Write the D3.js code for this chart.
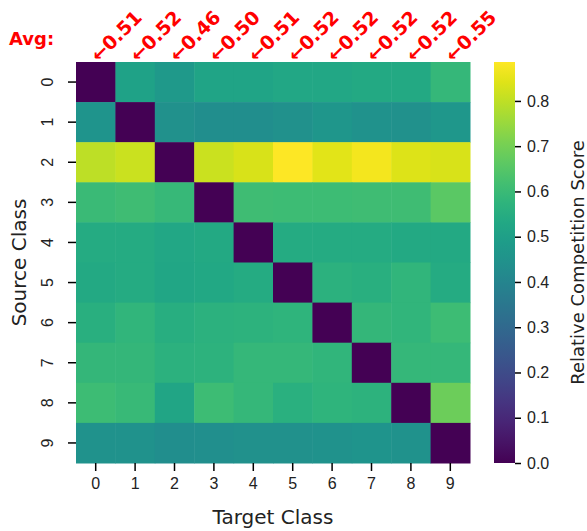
<!DOCTYPE html>
<html><head><meta charset="utf-8">
<script src="https://cdn.jsdelivr.net/npm/d3@7"></script>
<style>body{margin:0;background:#fff}svg{display:block;font-family:"DejaVu Sans",sans-serif}</style>
</head><body><svg id="c" width="587" height="531"></svg>
<script>
const sourceClasses = ["0","1","2","3","4","5","6","7","8","9"];
const targetClasses = ["0","1","2","3","4","5","6","7","8","9"];
const row0 = [0.000,0.509,0.475,0.518,0.518,0.527,0.527,0.535,0.535,0.589];
const row1 = [0.460,0.000,0.443,0.434,0.434,0.443,0.465,0.447,0.445,0.470];
const row2 = [0.797,0.815,0.000,0.815,0.833,0.886,0.846,0.870,0.840,0.833];
const row3 = [0.600,0.610,0.594,0.000,0.610,0.607,0.607,0.610,0.612,0.660];
const row4 = [0.540,0.540,0.527,0.536,0.000,0.540,0.540,0.540,0.535,0.536];
const row5 = [0.534,0.540,0.523,0.532,0.540,0.000,0.567,0.560,0.580,0.540];
const row6 = [0.558,0.580,0.554,0.567,0.571,0.576,0.000,0.585,0.580,0.607];
const row7 = [0.585,0.585,0.567,0.571,0.589,0.589,0.580,0.000,0.590,0.589];
const row8 = [0.607,0.598,0.520,0.607,0.589,0.563,0.576,0.570,0.000,0.687];
const row9 = [0.452,0.447,0.434,0.439,0.443,0.443,0.447,0.460,0.450,0.000];
const matrix = [row0,row1,row2,row3,row4,row5,row6,row7,row8,row9];
const avgLabels = ["0.51","0.52","0.46","0.50","0.51","0.52","0.52","0.52","0.52","0.55"];
const colorbarTicks = [0.0,0.1,0.2,0.3,0.4,0.5,0.6,0.7,0.8];

const svg = d3.select("#c");
const L=76, R=470, T=62, B=463;
const x = d3.scaleBand().domain(targetClasses).range([L,R]);
const y = d3.scaleBand().domain(sourceClasses).range([T,B]);
const vmax = d3.max(matrix.flat());
const color = d3.scaleSequential(d3.interpolateViridis).domain([0,vmax]);

const cells = [];
matrix.forEach((r,i)=>r.forEach((v,j)=>cells.push({s:sourceClasses[i],t:targetClasses[j],v})));
svg.append("g").selectAll("rect").data(cells).join("rect")
  .attr("x",d=>x(d.t)).attr("y",d=>y(d.s))
  .attr("width",x.bandwidth()+0.5).attr("height",y.bandwidth()+0.5)
  .attr("fill",d=>color(d.v));

// x axis
const xa = svg.append("g").attr("transform",`translate(0,${B})`)
  .call(d3.axisBottom(x).tickSize(8).tickPadding(7));
xa.select(".domain").remove();
xa.selectAll("line").attr("stroke","#000").attr("stroke-width",1.5);
xa.selectAll("text").attr("font-size",16).attr("fill","#222");

// y axis
const ya = svg.append("g").attr("transform",`translate(${L},0)`)
  .call(d3.axisLeft(y).tickSize(8).tickPadding(7));
ya.select(".domain").remove();
ya.selectAll("line").attr("stroke","#000").attr("stroke-width",1.5);
ya.selectAll("text").attr("font-size",16).attr("fill","#222")
  .attr("text-anchor","middle").attr("dy",null).attr("x",null)
  .attr("transform","translate(-29,0) rotate(-90)").attr("dy","0.35em");

svg.append("text").attr("x",(L+R)/2).attr("y",524).attr("text-anchor","middle")
  .attr("font-size",20).attr("fill","#222").text("Target Class");
svg.append("text").attr("transform",`translate(26,${(T+B)/2}) rotate(-90)`)
  .attr("text-anchor","middle").attr("font-size",20).attr("fill","#222").text("Source Class");

// colorbar
const cbX=494, cbW=21;
const cy = d3.scaleLinear().domain([0,vmax]).range([B,T]);
const defs = svg.append("defs");
const grad = defs.append("linearGradient").attr("id","g").attr("x1",0).attr("y1",1).attr("x2",0).attr("y2",0);
d3.range(0,1.0001,0.05).forEach(t=>grad.append("stop").attr("offset",t).attr("stop-color",d3.interpolateViridis(t)));
svg.append("rect").attr("x",cbX).attr("y",T).attr("width",cbW).attr("height",B-T).attr("fill","url(#g)");
const ca = svg.append("g").attr("transform",`translate(${cbX+cbW},0)`)
  .call(d3.axisRight(cy).tickValues(colorbarTicks).tickFormat(d3.format(".1f")).tickSize(6).tickPadding(6));
ca.select(".domain").remove();
ca.selectAll("line").attr("stroke","#000").attr("stroke-width",1.5);
ca.selectAll("text").attr("font-size",16).attr("fill","#222");
svg.append("text").attr("transform",`translate(578,${(T+B)/2}) rotate(-90)`)
  .attr("text-anchor","middle").attr("dy","0.35em").attr("font-size",18).attr("fill","#222").text("Relative Competition Score");

// averages
svg.append("text").attr("x",9).attr("y",45).attr("font-size",18).attr("font-weight","bold")
  .attr("fill","red").text("Avg:");
svg.append("g").selectAll("text").data(avgLabels).join("text")
  .attr("transform",(d,i)=>`translate(${x(targetClasses[i])+x.bandwidth()/2+3},${T+1}) rotate(-45)`)
  .attr("font-size",19).attr("font-weight","bold").attr("fill","red")
  .text(d=>"\u2190"+d);
</script></body></html>
